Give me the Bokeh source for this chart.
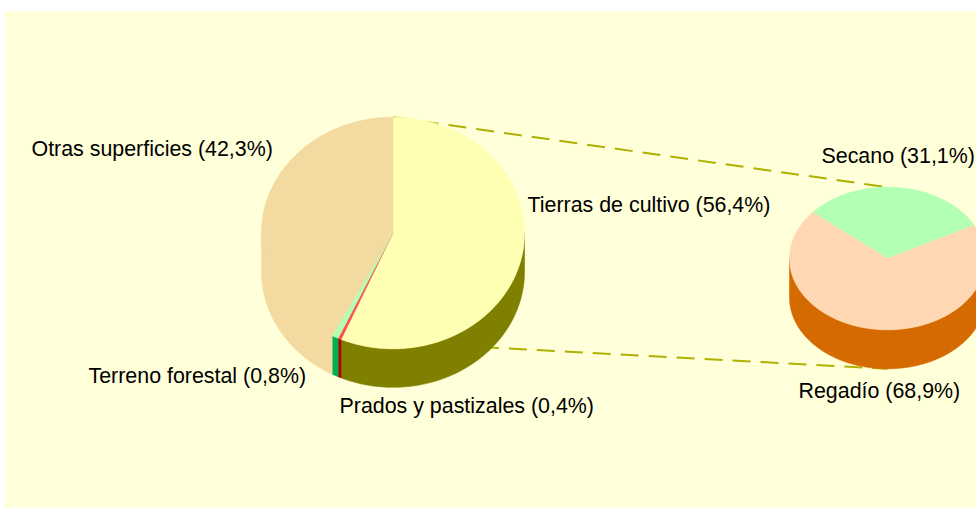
import numpy as np
from bokeh.plotting import figure
from bokeh.models import Range1d, ColumnDataSource
from bokeh.core.properties import value
from bokeh.embed import file_html
from bokeh.resources import INLINE

# ---- data ----
main_labels = ["Tierras de cultivo", "Prados y pastizales", "Terreno forestal", "Otras superficies"]
main_values = [56.4, 0.4, 0.8, 42.3]
sub_labels = ["Secano", "Regadío"]
sub_values = [31.1, 68.9]

# ---- styles ----
main_top = ["#FFFFB3", "#FF5050", "#B3FFB3", "#F3DAA0"]
main_side = ["#808000", "#B00000", "#00B050", "#F3DAA0"]
sub_top = ["#B3FFB3", "#FFD8B3"]
sub_side = ["#00B050", "#D56A00"]

W, H = 976, 508
FONT = value("Liberation Sans")
FSIZE = value("21.4px")


def fmt(v):
    return f"{v:.1f}".replace(".", ",")


p = figure(width=W, height=H, x_range=Range1d(0, W), y_range=Range1d(H, 0),
           output_backend="svg", toolbar_location=None, min_border=0)
p.axis.visible = False
p.grid.visible = False
p.outline_line_color = None
p.background_fill_color = "white"
p.border_fill_color = "white"

# chart area background
p.quad(left=[4], right=[W + 10], top=[11], bottom=[507], fill_color="#FFFFD9", line_color=None)

# geometry
M = dict(cx=392.5, cy=232.5, rx=131.5, ry=115.8, depth=38.5, start=0.0)
S = dict(cx=887.0, cy=258.0, rx=98.0, ry=71.3, depth=39.0, start=310.3)


def slice_angles(values, start):
    total = float(sum(values))
    a = [start]
    for v in values:
        a.append(a[-1] + 360.0 * v / total)
    return a


def pt(g, deg, dy=0.0):
    t = np.radians(deg)
    return g["cx"] + g["rx"] * np.sin(t), g["cy"] - g["ry"] * np.cos(t) + dy


main_ang = slice_angles(main_values, M["start"])
sub_ang = slice_angles(sub_values, S["start"])

# connector lines (drawn beneath pies)
x0, y0 = pt(M, main_ang[0])
x1, y1 = pt(S, 0.0)
x2, y2 = pt(M, main_ang[1])
x3, y3 = pt(S, 180.0, S["depth"])
p.line([x0, x1], [y0, y1], line_color="#B0B000", line_width=2, line_dash="18 10")
p.line([x2, x3], [y2, y3], line_color="#B0B000", line_width=2, line_dash="18 10")


def draw_pie(g, values, tops, sides):
    ang = slice_angles(values, g["start"])
    sx, sy, sc = [], [], []
    tx, ty, tc = [], [], []
    for i in range(len(values)):
        a0, a1 = ang[i], ang[i + 1]
        n = max(4, int((a1 - a0) * 2))
        xs, ys = pt(g, np.linspace(a0, a1, n))
        tx.append([g["cx"]] + list(xs))
        ty.append([g["cy"]] + list(ys))
        tc.append(tops[i])
        for k in (-1, 0, 1, 2):
            lo = max(a0, 90 + 360 * k)
            hi = min(a1, 270 + 360 * k)
            if hi > lo:
                m = max(4, int((hi - lo) * 2))
                ax, ay = pt(g, np.linspace(lo, hi, m))
                sx.append(list(ax) + list(ax[::-1]))
                sy.append(list(ay) + list(ay[::-1] + g["depth"]))
                sc.append(sides[i])
    p.patches("xs", "ys", source=ColumnDataSource(dict(xs=sx, ys=sy, c=sc)),
              fill_color="c", line_color="c", line_width=0.6)
    p.patches("xs", "ys", source=ColumnDataSource(dict(xs=tx, ys=ty, c=tc)),
              fill_color="c", line_color="c", line_width=0.6)


draw_pie(M, main_values, main_top, main_side)
draw_pie(S, sub_values, sub_top, sub_side)

# labels
label_pos = {
    "Tierras de cultivo": (527, 204.5),
    "Prados y pastizales": (339, 405),
    "Terreno forestal": (88, 375),
    "Otras superficies": (31, 148.5),
    "Secano": (821, 155),
    "Regadío": (798, 390),
}
lx, ly, lt = [], [], []
for lab, v in list(zip(main_labels, main_values)) + list(zip(sub_labels, sub_values)):
    x, y = label_pos[lab]
    lx.append(x)
    ly.append(y)
    lt.append(f"{lab} ({fmt(v)}%)")
p.text(x=lx, y=ly, text=lt, text_font=FONT, text_font_size=FSIZE,
       text_align="left", text_baseline="alphabetic", text_color="#000000")

open("out.html", "w").write(file_html(p, INLINE))
